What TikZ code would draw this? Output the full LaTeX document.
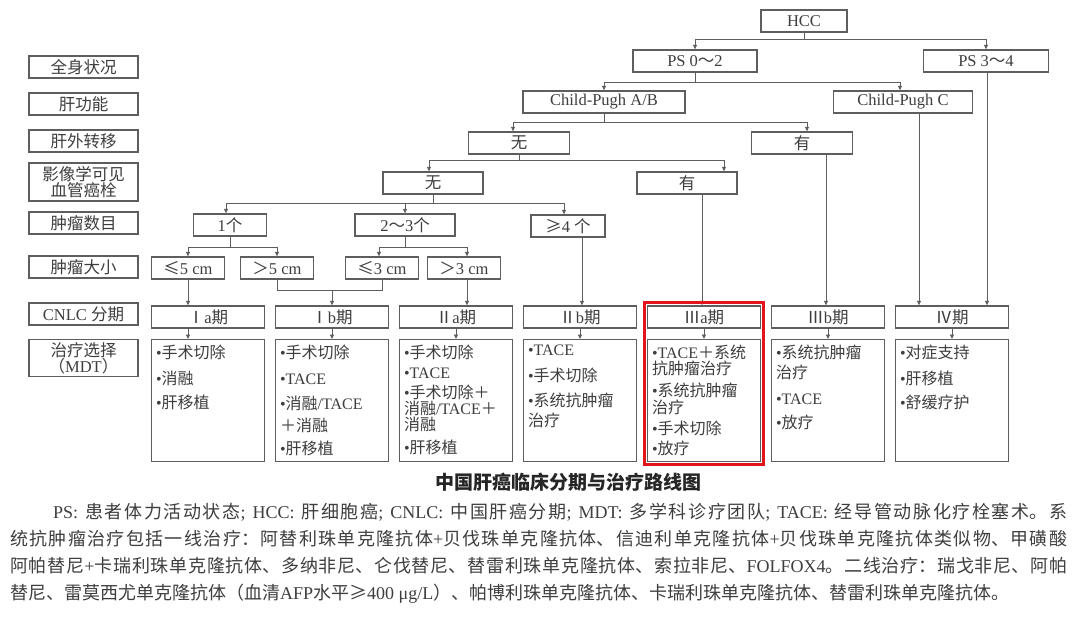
\documentclass[tikz,border=0pt]{standalone}
\usepackage{fontspec}
\setmainfont{Liberation Serif}
\newfontfamily\zhfont{Noto Sans CJK SC}
\usetikzlibrary{arrows.meta,fit}

% Chinese characters switch to the CJK font by themselves
\XeTeXinterchartokenstate=1
\chardef\zhclass=100
\newcommand\zhrange[2]{\count255=#1 \loop\XeTeXcharclass\count255=\zhclass
  \ifnum\count255<#2 \advance\count255 by 1 \repeat}
\zhrange{"3000}{"303F}
\zhrange{"4E00}{"9FFF}
\zhrange{"FF01}{"FF5E}
\zhrange{"2160}{"216F}
\XeTeXcharclass"2264=\zhclass
\XeTeXcharclass"2265=\zhclass
\XeTeXinterchartoks 0 \zhclass={\zhfont}
\XeTeXinterchartoks 4095 \zhclass={\zhfont}
\XeTeXinterchartoks \zhclass 0={\rmfamily}
\XeTeXinterchartoks \zhclass 4095={\rmfamily}

\definecolor{linegray}{HTML}{5E5E5E}
\definecolor{textgray}{HTML}{3E3E3E}
\definecolor{markred}{HTML}{E3141B}

\begin{document}
\begin{tikzpicture}[x=1pt, y=-1pt,
    myblock/.style={rectangle, draw=linegray, line width=1.3pt, minimum height=22pt, inner sep=1pt, text=textgray, font=\fontsize{16.5}{16}\selectfont, align=center},
    mylabel/.style={myblock, minimum width=109pt, line width=1.6pt},
    mystage/.style={myblock, minimum width=113pt},
    mytreat/.style={myblock, minimum width=113pt, minimum height=122pt, anchor=north, inner sep=0pt, font=\fontsize{16}{17}\selectfont},
    myline/.style={draw=linegray, line width=0.9pt},
    myarrow/.style={myline, -{Triangle[length=4.5pt, width=4pt]}},
]
\fill[white] (0,0) rectangle (1080,621);
\useasboundingbox (0,0) rectangle (1080,621);

% row labels
\node[mylabel] (l1) at (83.5,67) {全身状况};
\node[mylabel] (l2) at (83.5,104) {肝功能};
\node[mylabel] (l3) at (83.5,141) {肝外转移};
\node[mylabel, minimum height=38pt] (l4) at (83.5,182) {影像学可见\\血管癌栓};
\node[mylabel] (l5) at (83.5,223) {肿瘤数目};
\node[mylabel] (l6) at (83.5,267) {肿瘤大小};
\node[mylabel] (l7) at (83.5,314) {CNLC 分期};
\node[mylabel, minimum height=37pt] (l8) at (83.5,358) {治疗选择\\（MDT）};

% decision tree
\node[myblock, minimum width=86pt] (hcc) at (804,21) {HCC};
\node[myblock, minimum width=124pt] (ps02) at (695,61) {PS 0～2};
\node[myblock, minimum width=125pt] (ps34) at (986,61) {PS 3～4};
\node[myblock, minimum width=162pt] (cpab) at (604,102) {Child-Pugh A/B};
\node[myblock, minimum width=139pt] (cpc) at (903,102) {Child-Pugh C};
\node[myblock, minimum width=101pt] (exno) at (519,143) {无};
\node[myblock, minimum width=101pt] (exyes) at (802,143) {有};
\node[myblock, minimum width=100pt] (vsno) at (433,183) {无};
\node[myblock, minimum width=100pt] (vsyes) at (687,183) {有};
\node[myblock, minimum width=73pt] (n1) at (230,225) {1个};
\node[myblock, minimum width=100pt] (n23) at (405,225) {2～3个};
\node[myblock, minimum width=74pt] (n4) at (568,226) {≥4 个};
\node[myblock, minimum width=73pt] (le5) at (188,268) {≤5 cm};
\node[myblock, minimum width=73pt] (gt5) at (277,268) {＞5 cm};
\node[myblock, minimum width=73pt] (le3) at (382,268) {≤3 cm};
\node[myblock, minimum width=73pt] (gt3) at (464,268) {＞3 cm};

% CNLC stages
\node[mystage] (ia) at (208,317) {Ⅰa期};
\node[mystage] (ib) at (332,317) {Ⅰb期};
\node[mystage] (iia) at (456,317) {Ⅱa期};
\node[mystage] (iib) at (580,317) {Ⅱb期};
\node[mystage] (iiia) at (704,317) {Ⅲa期};
\node[mystage] (iiib) at (828,317) {Ⅲb期};
\node[mystage] (iv) at (952,317) {Ⅳ期};

% treatment options
\node[mytreat] (tia) at (208,339) {\parbox[t][112pt][t]{104pt}{\raggedright
  •手术切除\\[9pt] •消融\\[7pt] •肝移植}};
\node[mytreat] (tib) at (332,339) {\parbox[t][112pt][t]{104pt}{\raggedright
  •手术切除\\[9pt] •TACE\\[8pt] •消融/TACE\\[5pt] ＋消融\\[6pt] •肝移植}};
\node[mytreat] (tiia) at (456,339) {\parbox[t][112pt][t]{104pt}{\raggedright
  •手术切除\\[3pt] •TACE\\[3pt] •手术切除＋\\[-1pt] 消融/TACE＋\\[-1pt] 消融\\[6pt] •肝移植}};
\node[mytreat] (tiib) at (580,339) {\parbox[t][112pt][t]{104pt}{\raggedright
  •TACE\\[9pt] •手术切除\\[8pt] •系统抗肿瘤\\[3pt] 治疗}};
\node[mytreat] (tiiia) at (704,339) {\parbox[t][112pt][t]{104pt}{\raggedright
  •TACE＋系统\\[-1pt] 抗肿瘤治疗\\[5pt] •系统抗肿瘤\\[0pt] 治疗\\[4pt] •手术切除\\[3pt] •放疗}};
\node[mytreat] (tiiib) at (828,339) {\parbox[t][112pt][t]{104pt}{\raggedright
  •系统抗肿瘤\\[3pt] 治疗\\[9pt] •TACE\\[7pt] •放疗}};
\node[mytreat] (tiv) at (952,339) {\parbox[t][112pt][t]{104pt}{\raggedright
  •对症支持\\[9pt] •肝移植\\[7pt] •舒缓疗护}};

% branches
\draw[myarrow] (hcc.south) -- ++(0,6.5) -| (ps02.north);
\draw[myarrow] (hcc.south) -- ++(0,6.5) -| (ps34.north);
\draw[myarrow] (ps02.south) -- ++(0,10) -| (cpab.north);
\draw[myarrow] (ps02.south) -- ++(0,10) -| ([xshift=-3pt]cpc.north);
\draw[myarrow] (cpab.south) -- ++(0,9) -| ([xshift=-6pt]exno.north);
\draw[myarrow] (cpab.south) -- ++(0,9) -| ([xshift=5pt]exyes.north);
\draw[myarrow] (exno.south) -- ++(0,6) -| ([xshift=-4pt]vsno.north);
\draw[myarrow] (exno.south) -- ++(0,6) -| ([xshift=37pt]vsyes.north);
\draw[myarrow] (vsno.south) -- ++(0,8.5) -| ([xshift=-4pt]n1.north);
\draw[myarrow] (vsno.south) -- ++(0,8.5) -| (n23.north);
\draw[myarrow] (vsno.south) -- ++(0,8.5) -| ([xshift=-4pt]n4.north);
\draw[myarrow] (n1.south) -- ++(0,11) -| (le5.north);
\draw[myarrow] (n1.south) -- ++(0,11) -| (gt5.north);
\draw[myarrow] (n23.south) -- ++(0,11) -| ([xshift=-3pt]le3.north);
\draw[myarrow] (n23.south) -- ++(0,11) -| ([xshift=3pt]gt3.north);

% into the stages
\draw[myarrow] (le5.south) -- (le5.south |- ia.north);
\draw[myline] (gt5.south) -- ++(0,10.5) coordinate (mrg) -| (le3.south);
\draw[myarrow] (mrg -| ib.north) -- (ib.north);
\draw[myarrow] ([xshift=3pt]gt3.south) -- ([xshift=3pt]gt3.south |- iia.north);
\draw[myarrow] ([xshift=2pt]iib.north |- n4.south) -- ([xshift=2pt]iib.north);
\draw[myarrow] ([xshift=-2pt]iiia.north |- vsyes.south) -- ([xshift=-2pt]iiia.north);
\draw[myarrow] ([xshift=-2pt]iiib.north |- exyes.south) -- ([xshift=-2pt]iiib.north);
\draw[myarrow] ([xshift=-33pt]iv.north |- cpc.south) -- ([xshift=-33pt]iv.north);
\draw[myarrow] ([xshift=35pt]iv.north |- ps34.south) -- ([xshift=35pt]iv.north);

% stages to treatment
\draw[myarrow] (ia.south -| le5.south) -- (tia.north -| le5.south);
\draw[myarrow] (ib.south) -- (tib.north);
\draw[myarrow] (iia.south) -- (tiia.north);
\draw[myarrow] (iib.south) -- (tiib.north);
\draw[myarrow] (iiia.south) -- (tiiia.north);
\draw[myarrow] (iiib.south) -- (tiiib.north);
\draw[myarrow] (iv.south) -- (tiv.north);

\node[draw=markred, line width=3pt, inner sep=2.5pt, fit=(iiia)(tiiia)] (hilite) {};

% caption
\node[font=\fontsize{19}{19}\selectfont\bfseries, text=black!85] (title) at (568,482) {中国肝癌临床分期与治疗路线图};
\node[anchor=north west, inner sep=0pt, text width=1057pt, align=justify, text=textgray,
      font=\fontsize{18}{27}\selectfont] (note) at (10,503)
  {\XeTeXlinebreaklocale "zh"\XeTeXlinebreakskip=0pt plus 4pt\relax\tolerance=10000
   \noindent\hspace*{43pt}PS:\hspace{7pt}患者体力活动状态;\hspace{7pt}HCC:\hspace{7pt}肝细胞癌;\hspace{7pt}CNLC:\hspace{7pt}中国肝癌分期;\hspace{7pt}MDT:\hspace{7pt}多学科诊疗团队;\hspace{7pt}TACE:\hspace{7pt}经导管动脉化疗栓塞术。系\break
   统抗肿瘤治疗包括一线治疗：阿替利珠单克隆抗体+贝伐珠单克隆抗体、信迪利单克隆抗体+贝伐珠单克隆抗体类似物、甲磺酸\break
   阿帕替尼+卡瑞利珠单克隆抗体、多纳非尼、仑伐替尼、替雷利珠单克隆抗体、索拉非尼、FOLFOX4。二线治疗：瑞戈非尼、阿帕\break
   替尼、雷莫西尤单克隆抗体（血清AFP水平≥400 μg/L）、帕博利珠单克隆抗体、卡瑞利珠单克隆抗体、替雷利珠单克隆抗体。};
\end{tikzpicture}
\end{document}
